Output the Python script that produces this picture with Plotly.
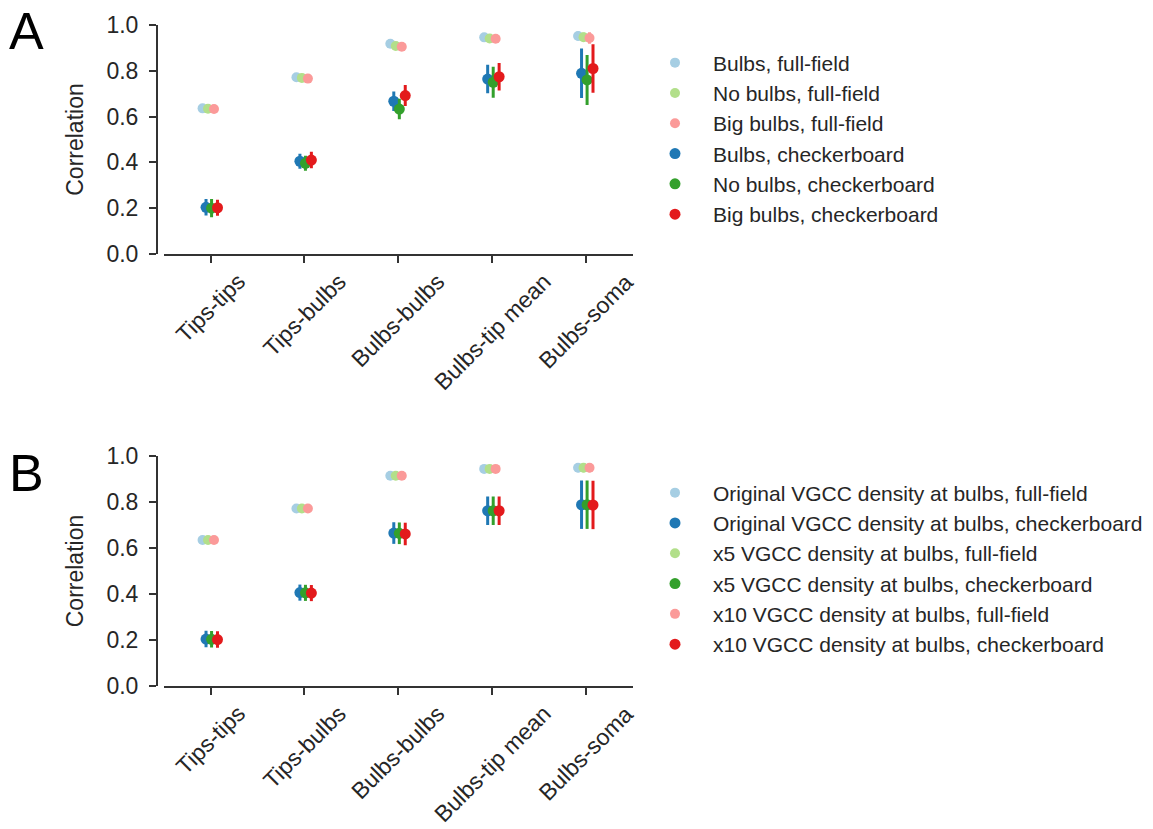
import plotly.graph_objects as go
import numpy as np

W, H = 1153, 829

categories = ["Tips-tips", "Tips-bulbs", "Bulbs-bulbs", "Bulbs-tip mean", "Bulbs-soma"]
y_ticks = [0.0, 0.2, 0.4, 0.6, 0.8, 1.0]
y_tick_text = ["0.0", "0.2", "0.4", "0.6", "0.8", "1.0"]

# ---- Panel A ----
a_names = ["Bulbs, full-field", "No bulbs, full-field", "Big bulbs, full-field",
           "Bulbs, checkerboard", "No bulbs, checkerboard", "Big bulbs, checkerboard"]
a_bulbs_ff = [0.636, 0.772, 0.918, 0.946, 0.952]
a_nobulbs_ff = [0.634, 0.769, 0.908, 0.941, 0.947]
a_bigbulbs_ff = [0.633, 0.766, 0.905, 0.940, 0.943]
a_bulbs_ff_err = [0.003, 0.004, 0.006, 0.008, 0.020]
a_nobulbs_ff_err = [0.003, 0.004, 0.006, 0.008, 0.020]
a_bigbulbs_ff_err = [0.003, 0.004, 0.006, 0.008, 0.025]
a_bulbs_cb = [0.204, 0.405, 0.667, 0.764, 0.789]
a_nobulbs_cb = [0.200, 0.396, 0.633, 0.750, 0.760]
a_bigbulbs_cb = [0.202, 0.410, 0.692, 0.774, 0.810]
a_bulbs_cb_err = [0.036, 0.033, 0.043, 0.062, 0.108]
a_nobulbs_cb_err = [0.040, 0.033, 0.045, 0.068, 0.109]
a_bigbulbs_cb_err = [0.035, 0.036, 0.046, 0.060, 0.106]

# ---- Panel B ----
b_names = ["Original VGCC density at bulbs, full-field", "x5 VGCC density at bulbs, full-field",
           "x10 VGCC density at bulbs, full-field",
           "Original VGCC density at bulbs, checkerboard", "x5 VGCC density at bulbs, checkerboard",
           "x10 VGCC density at bulbs, checkerboard"]
b_orig_ff = [0.635, 0.772, 0.914, 0.944, 0.949]
b_x5_ff = [0.635, 0.772, 0.914, 0.944, 0.949]
b_x10_ff = [0.635, 0.772, 0.914, 0.944, 0.949]
b_ff_err = [0.003, 0.004, 0.006, 0.008, 0.020]
b_orig_cb = [0.204, 0.406, 0.665, 0.762, 0.788]
b_x5_cb = [0.203, 0.405, 0.664, 0.762, 0.788]
b_x10_cb = [0.202, 0.404, 0.661, 0.762, 0.787]
b_orig_cb_err = [0.036, 0.035, 0.047, 0.062, 0.105]
b_x5_cb_err = [0.036, 0.035, 0.047, 0.062, 0.105]
b_x10_cb_err = [0.036, 0.035, 0.049, 0.062, 0.105]

colors = ["#a6cee3", "#b2df8a", "#fb9a99", "#1f78b4", "#33a02c", "#e31a1c"]
offsets = [-0.085, -0.027, 0.037, -0.048, 0.011, 0.074]
sizes = [10, 10, 10, 11, 11, 11]
b_legend_rank = [1, 3, 5, 2, 4, 6]

FONT = "Liberation Sans, Arial, sans-serif"
TXT = "#262626"

fig = go.Figure()
xbase = np.arange(len(categories))

a_vals = [a_bulbs_ff, a_nobulbs_ff, a_bigbulbs_ff, a_bulbs_cb, a_nobulbs_cb, a_bigbulbs_cb]
a_errs = [a_bulbs_ff_err, a_nobulbs_ff_err, a_bigbulbs_ff_err, a_bulbs_cb_err, a_nobulbs_cb_err, a_bigbulbs_cb_err]
b_vals = [b_orig_ff, b_x5_ff, b_x10_ff, b_orig_cb, b_x5_cb, b_x10_cb]
b_errs = [b_ff_err, b_ff_err, b_ff_err, b_orig_cb_err, b_x5_cb_err, b_x10_cb_err]

for i in range(6):
    fig.add_trace(go.Scatter(
        x=xbase + offsets[i], y=a_vals[i], mode="markers", name=a_names[i],
        marker=dict(color=colors[i], size=sizes[i]),
        error_y=dict(type="data", array=a_errs[i], color=colors[i], thickness=3, width=0),
        xaxis="x", yaxis="y", legend="legend", legendgroup="a%d" % i, cliponaxis=False))
for i in range(6):
    fig.add_trace(go.Scatter(
        x=xbase + offsets[i], y=b_vals[i], mode="markers", name=b_names[i],
        marker=dict(color=colors[i], size=sizes[i]),
        error_y=dict(type="data", array=b_errs[i], color=colors[i], thickness=3, width=0),
        xaxis="x2", yaxis="y2", legend="legend2", legendgroup="b%d" % i,
        legendrank=b_legend_rank[i], cliponaxis=False))

def px_x(p):
    return p / W

def px_y(p):
    return 1 - p / H

x_dom = [px_x(163.6), px_x(633)]
xaxis_common = dict(
    range=[-0.5, 4.5], tickmode="array", tickvals=list(xbase), ticktext=categories,
    showticklabels=False, ticks="outside", ticklen=7, tickwidth=2, tickcolor="#333333",
    showline=True, linecolor="#333333", linewidth=2, showgrid=False, zeroline=False,
    automargin=False, domain=x_dom)
yaxis_common = dict(
    range=[0, 1], tickmode="array", tickvals=y_ticks, ticktext=y_tick_text,
    ticks="outside", ticklen=7, tickwidth=2, tickcolor="#333333",
    showline=True, linecolor="#333333", linewidth=2, showgrid=False, zeroline=False,
    automargin=False,
    tickfont=dict(family=FONT, size=23, color=TXT), anchor="free", position=px_x(157),
    ticklabelstandoff=6,
    title=dict(text="Correlation", font=dict(family=FONT, size=23, color=TXT), standoff=15))

# category labels, rotated and centred under each tick (as in the reference)
annotations = []
for xref, top in (("x", 266), ("x2", 698)):
    for xv, lab in zip(xbase, categories):
        annotations.append(dict(
            text=lab, x=xv, y=px_y(top), xref=xref, yref="paper",
            xanchor="center", yanchor="top", textangle=-45, showarrow=False,
            font=dict(family=FONT, size=23, color=TXT)))
annotations += [
    dict(text="A", x=px_x(27), y=px_y(31), xref="paper", yref="paper",
         xanchor="center", yanchor="middle",
         showarrow=False, font=dict(family=FONT, size=52, color="black")),
    dict(text="B", x=px_x(27), y=px_y(473), xref="paper", yref="paper",
         xanchor="center", yanchor="middle",
         showarrow=False, font=dict(family=FONT, size=52, color="black")),
]

fig.update_layout(
    width=W, height=H, margin=dict(l=0, r=0, t=0, b=0, pad=0, autoexpand=False),
    paper_bgcolor="white", plot_bgcolor="white",
    font=dict(family=FONT, color=TXT),
    xaxis=dict(xaxis_common, anchor="y"),
    yaxis=dict(yaxis_common, domain=[px_y(254), px_y(25)]),
    xaxis2=dict(xaxis_common, anchor="y2"),
    yaxis2=dict(yaxis_common, domain=[px_y(686), px_y(456)]),
    legend=dict(x=px_x(637), y=px_y(42.5), xanchor="left", yanchor="top",
                font=dict(family=FONT, size=21, color=TXT), tracegroupgap=0,
                itemwidth=66, bgcolor="rgba(0,0,0,0)"),
    legend2=dict(x=px_x(637), y=px_y(472.5), xanchor="left", yanchor="top",
                 font=dict(family=FONT, size=21, color=TXT), tracegroupgap=0,
                 itemwidth=66, bgcolor="rgba(0,0,0,0)"),
    annotations=annotations,
    showlegend=True,
)

fig.write_html("out.html", config={"displayModeBar": False},
               post_script="document.body.style.margin='0';")
